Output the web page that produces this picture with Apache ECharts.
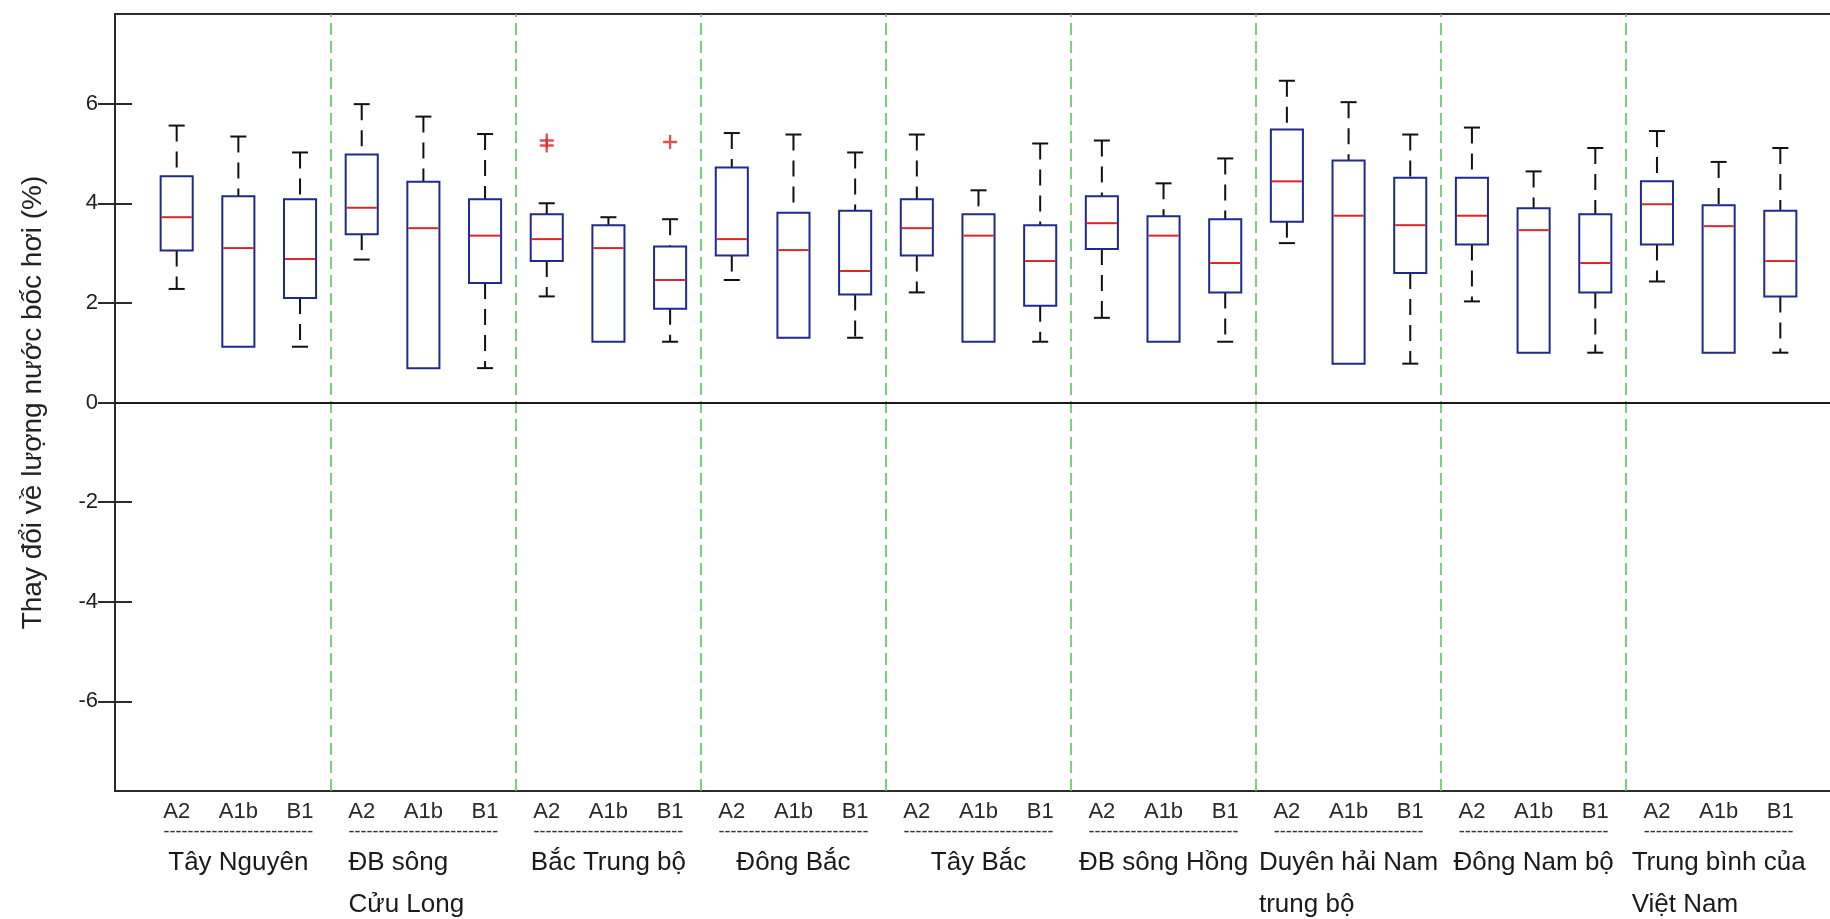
<!DOCTYPE html>
<html>
<head>
<meta charset="utf-8">
<script src="https://cdn.jsdelivr.net/npm/echarts@6/dist/echarts.min.js"></script>
<style>
  html, body { margin: 0; padding: 0; background: #ffffff; }
  #chart { width: 1830px; height: 919px; }
</style>
</head>
<body>
<div id="chart"></div>
<script>
// ---- data ----
const scenarios = ['A2', 'A1b', 'B1'];
const regions = ['Tây Nguyên', 'ĐB sông\nCửu Long', 'Bắc Trung bộ', 'Đông Bắc', 'Tây Bắc',
  'ĐB sông Hồng', 'Duyên hải Nam\ntrung bộ', 'Đông Nam bộ', 'Trung bình của\nViệt Nam'];
const whiskerLow = [2.28, 1.12, 1.12, 2.87, 0.69, 0.69, 2.13, 1.22, 1.22, 2.46, 1.30, 1.30, 2.21, 1.22, 1.22,
  1.70, 1.22, 1.22, 3.20, 0.78, 0.78, 2.03, 1.00, 1.00, 2.43, 1.00, 1.00];
const quartile1 = [3.05, 1.12, 2.10, 3.38, 0.69, 2.40, 2.84, 1.22, 1.88, 2.95, 1.30, 2.17, 2.95, 1.22, 1.94,
  3.08, 1.22, 2.21, 3.63, 0.78, 2.60, 3.17, 1.00, 2.21, 3.17, 1.00, 2.13];
const median = [3.72, 3.10, 2.88, 3.91, 3.50, 3.35, 3.28, 3.10, 2.46, 3.28, 3.06, 2.64, 3.50, 3.35, 2.84,
  3.60, 3.35, 2.80, 4.44, 3.75, 3.56, 3.75, 3.46, 2.80, 3.98, 3.54, 2.84];
const quartile3 = [4.54, 4.14, 4.08, 4.98, 4.43, 4.08, 3.78, 3.56, 3.13, 4.72, 3.81, 3.85, 4.08, 3.78, 3.56,
  4.14, 3.74, 3.68, 5.48, 4.86, 4.51, 4.51, 3.90, 3.78, 4.44, 3.96, 3.85];
const whiskerHigh = [5.56, 5.34, 5.02, 5.99, 5.74, 5.39, 4.00, 3.72, 3.68, 5.41, 5.38, 5.02, 5.38, 4.26, 5.20,
  5.26, 4.40, 4.90, 6.46, 6.03, 5.38, 5.52, 4.64, 5.11, 5.45, 4.83, 5.11];
const outliers = [[7, 5.26], [7, 5.16], [9, 5.23]];
const yTicks = [-6, -4, -2, 0, 2, 4, 6];
const yTitle = 'Thay đổi về lượng nước bốc hơi (%)';

// ---- build ----
const nBox = regions.length * scenarios.length;
const positions = [];
const boxData = [];
for (let i = 0; i < nBox; i++) {
  positions.push(i + 1);
  boxData.push([i + 1, whiskerLow[i], quartile1[i], median[i], quartile3[i], whiskerHigh[i]]);
}
const groupCenters = regions.map((r, g) => g * scenarios.length + 2);
const separators = [];
for (let g = 1; g < regions.length; g++) separators.push(g * scenarios.length + 0.5);

const FONT = '"Liberation Sans", Arial, sans-serif';
const DASHES = '-------------------------';

const chart = echarts.init(document.getElementById('chart'), null, { renderer: 'canvas' });

const option = {
  animation: false,
  backgroundColor: '#ffffff',
  textStyle: { fontFamily: FONT },
  grid: {
    left: 115, right: -12, top: 14, bottom: 128,
    show: true, borderColor: '#2a2a2a', borderWidth: 2,
    backgroundColor: 'transparent',
    containLabel: false,
    outerBoundsMode: 'none'
  },
  xAxis: [
    {
      type: 'value', min: 0, max: 28, position: 'bottom',
      axisLine: { show: false, onZero: false },
      axisTick: { show: false },
      splitLine: { show: false },
      axisLabel: {
        customValues: positions,
        margin: 10,
        fontSize: 22, color: '#2a2a2a', fontFamily: FONT,
        formatter: v => scenarios[(Math.round(v) - 1) % scenarios.length]
      }
    },
    {
      type: 'value', min: 0, max: 28, position: 'bottom',
      axisLine: { show: false, onZero: false },
      axisTick: { show: false },
      splitLine: { show: false },
      axisLabel: {
        customValues: groupCenters,
        margin: 31,
        color: '#1a1a1a', fontFamily: FONT,
        formatter: v => {
          const g = Math.round((v - 2) / scenarios.length);
          const lines = regions[g].split('\n');
          const st = lines.length > 1 ? 'l' : 'c';
          return '{d|' + DASHES + '}\n' + lines.map(s => '{' + st + '|' + s + '}').join('\n');
        },
        rich: {
          d: { fontSize: 18, lineHeight: 20, align: 'center', color: '#333', fontFamily: FONT },
          c: { fontSize: 26, lineHeight: 42, align: 'center', color: '#1a1a1a', fontFamily: FONT },
          l: { fontSize: 26, lineHeight: 42, align: 'left', color: '#1a1a1a', fontFamily: FONT }
        }
      }
    }
  ],
  yAxis: [
    {
      type: 'value', min: -7.8, max: 7.8, position: 'left',
      name: yTitle, nameLocation: 'middle', nameRotate: 90, nameGap: 68,
      nameTextStyle: { fontSize: 28, color: '#222', fontFamily: FONT },
      axisLine: { show: false },
      splitLine: { show: false },
      axisTick: { show: true, inside: true, length: 17, customValues: yTicks,
        lineStyle: { color: '#2a2a2a', width: 2 } },
      axisLabel: { customValues: yTicks, margin: 17, fontSize: 22, color: '#222', fontFamily: FONT }
    },
    {
      type: 'value', min: -7.8, max: 7.8, position: 'right',
      axisLine: { show: false },
      splitLine: { show: false },
      axisTick: { show: true, inside: true, length: 17, customValues: yTicks,
        lineStyle: { color: '#2a2a2a', width: 2 } },
      axisLabel: { show: false }
    }
  ],
  series: [
    {
      type: 'custom',
      xAxisIndex: 0, yAxisIndex: 0,
      data: boxData,
      encode: { x: 0, y: [1, 2, 3, 4, 5] },
      clip: false,
      renderItem: function (params, api) {
        const x = api.value(0);
        const lo = api.coord([x, api.value(1)]);
        const q1 = api.coord([x, api.value(2)]);
        const md = api.coord([x, api.value(3)]);
        const q3 = api.coord([x, api.value(4)]);
        const hi = api.coord([x, api.value(5)]);
        const bw = api.size([1, 0])[0] * 0.52;
        const cw = bw * 0.5;
        const cx = lo[0];
        const children = [];
        const wStyle = { stroke: '#111', lineWidth: 2, lineDash: [16, 10] };
        const cStyle = { stroke: '#111', lineWidth: 2 };
        if (q3[1] - hi[1] > 0.5) {
          children.push({ type: 'line', shape: { x1: cx, y1: hi[1], x2: cx, y2: q3[1] }, style: wStyle });
        }
        children.push({ type: 'line', shape: { x1: cx - cw / 2, y1: hi[1], x2: cx + cw / 2, y2: hi[1] }, style: cStyle });
        if (lo[1] - q1[1] > 0.5) {
          children.push({ type: 'line', shape: { x1: cx, y1: q1[1], x2: cx, y2: lo[1] }, style: wStyle });
          children.push({ type: 'line', shape: { x1: cx - cw / 2, y1: lo[1], x2: cx + cw / 2, y2: lo[1] }, style: cStyle });
        }
        children.push({ type: 'rect', shape: { x: cx - bw / 2, y: q3[1], width: bw, height: q1[1] - q3[1] },
          style: { fill: 'none', stroke: '#1f2a8c', lineWidth: 2 } });
        children.push({ type: 'line', shape: { x1: cx - bw / 2 + 1, y1: md[1], x2: cx + bw / 2 - 1, y2: md[1] },
          style: { stroke: '#d8262a', lineWidth: 2 } });
        return { type: 'group', children: children };
      },
      z: 3
    },
    {
      type: 'scatter',
      xAxisIndex: 0, yAxisIndex: 0,
      data: outliers,
      symbol: 'path://M4.6,0H6.4V4.6H11V6.4H6.4V11H4.6V6.4H0V4.6H4.6Z',
      symbolSize: 14,
      itemStyle: { color: '#d8262a' },
      silent: true,
      z: 4,
      markLine: {
        silent: true, symbol: 'none', animation: false,
        label: { show: false },
        emphasis: { disabled: true },
        data: separators.map(v => ({ xAxis: v, lineStyle: { color: '#5cc45c', width: 1.6, type: [12, 6] } }))
          .concat([{ yAxis: 0, lineStyle: { color: '#1a1a1a', width: 1.8, type: 'solid' } }])
      }
    }
  ]
};
chart.setOption(option);
</script>
</body>
</html>
